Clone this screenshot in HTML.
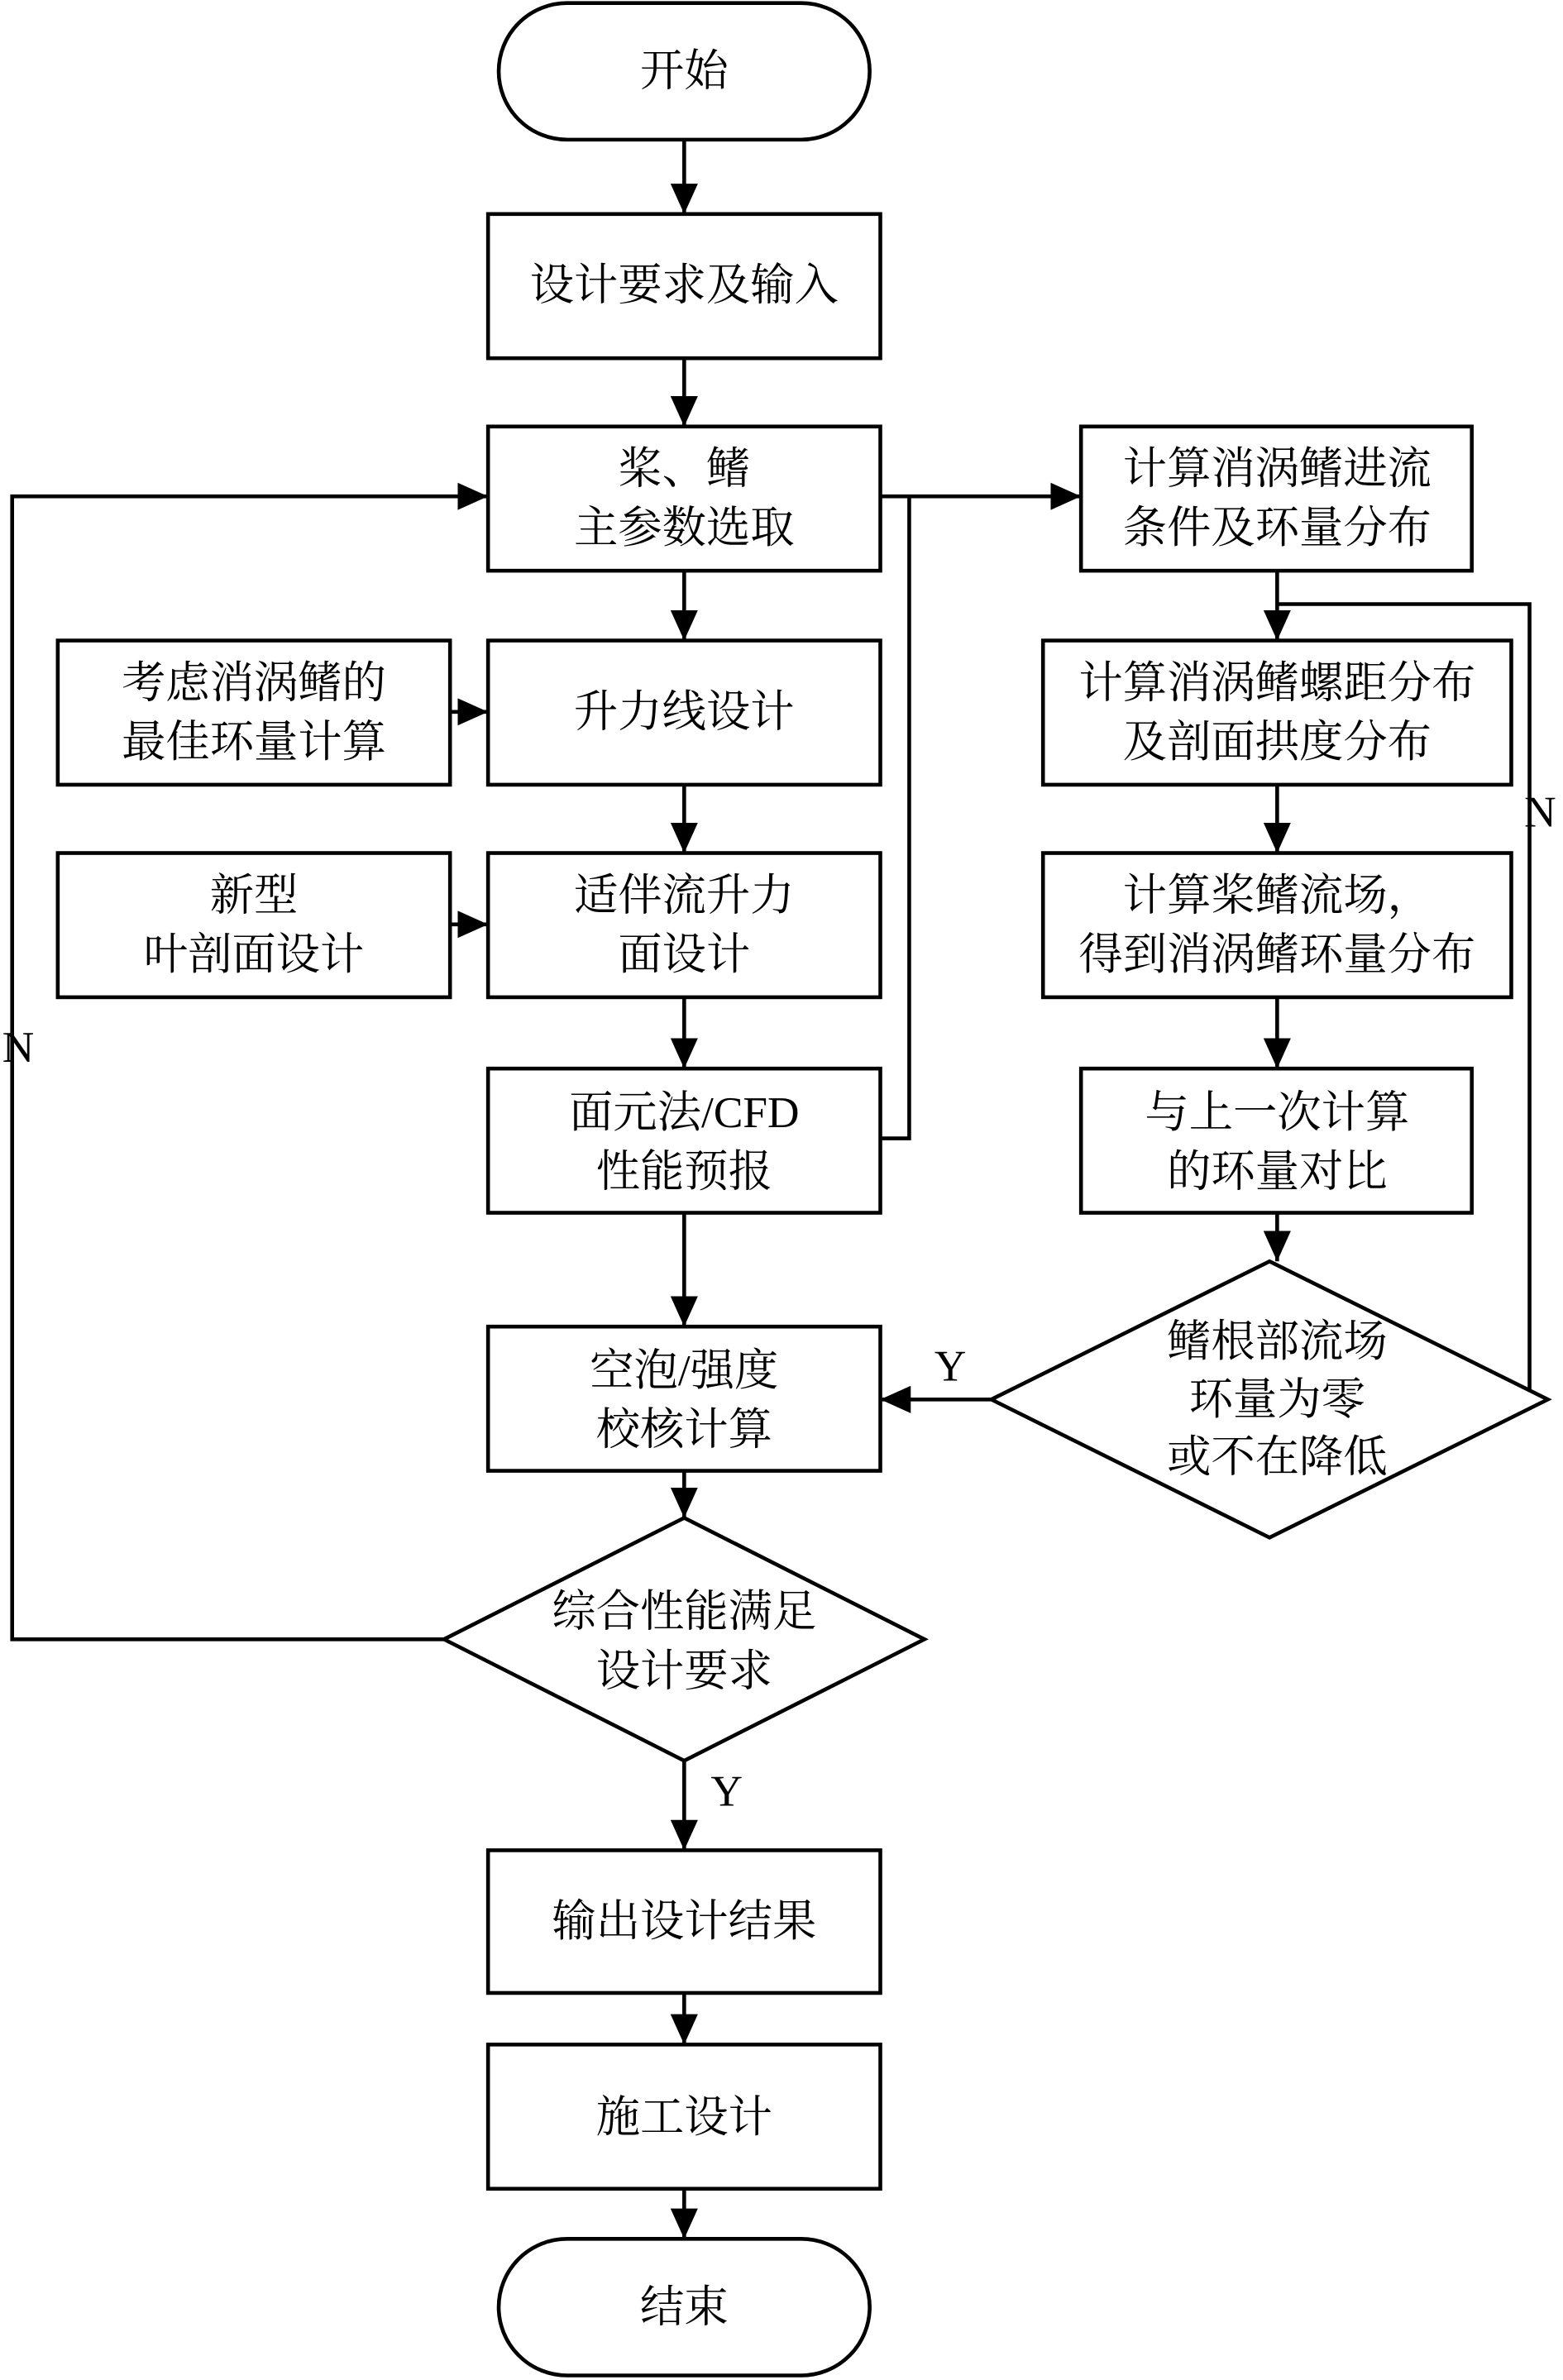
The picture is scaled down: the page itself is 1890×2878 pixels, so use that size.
<!DOCTYPE html>
<html><head><meta charset="utf-8"><style>
html,body{margin:0;padding:0;background:#fff;}
svg{display:block;}
text{font-family:"Liberation Serif","Noto Serif CJK SC",serif;font-size:29px;fill:#000;text-anchor:middle;dominant-baseline:central;}
</style></head><body>
<svg width="1890" height="2878" viewBox="0 0 1028 1568" preserveAspectRatio="none" xmlns="http://www.w3.org/2000/svg">
<defs><marker id="a" markerWidth="10" markerHeight="10" refX="9" refY="5" orient="auto" markerUnits="userSpaceOnUse" viewBox="0 0 10 10"><path d="M0,0 L10,5 L0,10 z" fill="#000"/></marker>
<marker id="b" markerWidth="20" markerHeight="18" refX="20" refY="9" orient="auto" markerUnits="userSpaceOnUse" viewBox="0 0 20 18"><path d="M0,0 L20,9 L0,18 z" fill="#000"/></marker></defs>
<g fill="none" stroke="#000" stroke-width="2.5">
<rect x="328" y="2" width="244" height="90" rx="45"/>
<rect x="321" y="141" width="258" height="95"/>
<rect x="321" y="281" width="258" height="95"/>
<rect x="321" y="422" width="258" height="95"/>
<rect x="38" y="422" width="258" height="95"/>
<rect x="321" y="562" width="258" height="95"/>
<rect x="38" y="562" width="258" height="95"/>
<rect x="321" y="704" width="258" height="95"/>
<rect x="321" y="874" width="258" height="95"/>
<polygon points="450,1000 608,1080 450,1160 292,1080"/>
<rect x="321" y="1219" width="258" height="94"/>
<rect x="321" y="1347" width="258" height="95"/>
<rect x="328" y="1475" width="244" height="90" rx="45"/>
<rect x="711" y="281" width="257" height="95"/>
<rect x="686" y="422" width="308" height="95"/>
<rect x="686" y="562" width="308" height="95"/>
<rect x="711" y="704" width="257" height="95"/>
<polygon points="835,831 1018,922 835,1013 652,922"/>
</g>
<g fill="none" stroke="#000" stroke-width="2.5" marker-end="url(#b)">
<line x1="450" y1="92" x2="450" y2="141"/>
<line x1="450" y1="236" x2="450" y2="281"/>
<line x1="450" y1="376" x2="450" y2="422"/>
<line x1="450" y1="517" x2="450" y2="562"/>
<line x1="450" y1="657" x2="450" y2="704"/>
<line x1="450" y1="799" x2="450" y2="874"/>
<line x1="450" y1="969" x2="450" y2="1000"/>
<line x1="450" y1="1160" x2="450" y2="1219"/>
<line x1="450" y1="1313" x2="450" y2="1347"/>
<line x1="450" y1="1442" x2="450" y2="1475"/>
<line x1="296" y1="469" x2="321" y2="469"/>
<line x1="296" y1="609" x2="321" y2="609"/>
<line x1="579" y1="327" x2="711" y2="327"/>
<polyline points="292,1080 8,1080 8,327 321,327"/>
<line x1="840" y1="376" x2="840" y2="422"/>
<line x1="840" y1="517" x2="840" y2="562"/>
<line x1="840" y1="657" x2="840" y2="704"/>
<line x1="840" y1="799" x2="840" y2="831"/>
<line x1="652" y1="922" x2="579" y2="922"/>
</g>
<g fill="none" stroke="#000" stroke-width="2.5">
<polyline points="579,750 598,750 598,327"/>
<polyline points="1006,916 1006,398 840,398"/>
</g>
<text x="450" y="47">开始</text>
<text x="450" y="188">设计要求及输入</text>
<text x="450" y="309">桨、鳍</text><text x="450" y="348">主参数选取</text>
<text x="450" y="469">升力线设计</text>
<text x="167" y="450">考虑消涡鳍的</text><text x="167" y="489">最佳环量计算</text>
<text x="450" y="590">适伴流升力</text><text x="450" y="629">面设计</text>
<text x="167" y="590">新型</text><text x="167" y="629">叶剖面设计</text>
<text x="450" y="733">面元法/CFD</text><text x="450" y="772">性能预报</text>
<text x="450" y="903">空泡/强度</text><text x="450" y="942">校核计算</text>
<text x="450" y="1062">综合性能满足</text><text x="450" y="1101">设计要求</text>
<text x="450" y="1266">输出设计结果</text>
<text x="450" y="1395">施工设计</text>
<text x="450" y="1520">结束</text>
<text x="840" y="309">计算消涡鳍进流</text><text x="840" y="348">条件及环量分布</text>
<text x="840" y="450">计算消涡鳍螺距分布</text><text x="840" y="489">及剖面拱度分布</text>
<text x="840" y="590">计算桨鳍流场，</text><text x="840" y="629">得到消涡鳍环量分布</text>
<text x="840" y="733">与上一次计算</text><text x="840" y="772">的环量对比</text>
<text x="840" y="884">鳍根部流场</text><text x="840" y="922">环量为零</text><text x="840" y="960">或不在降低</text>
<text x="12" y="690">N</text>
<text x="478" y="1180">Y</text>
<text x="625" y="900">Y</text>
<text x="1013" y="535">N</text>
</svg>
</body></html>
